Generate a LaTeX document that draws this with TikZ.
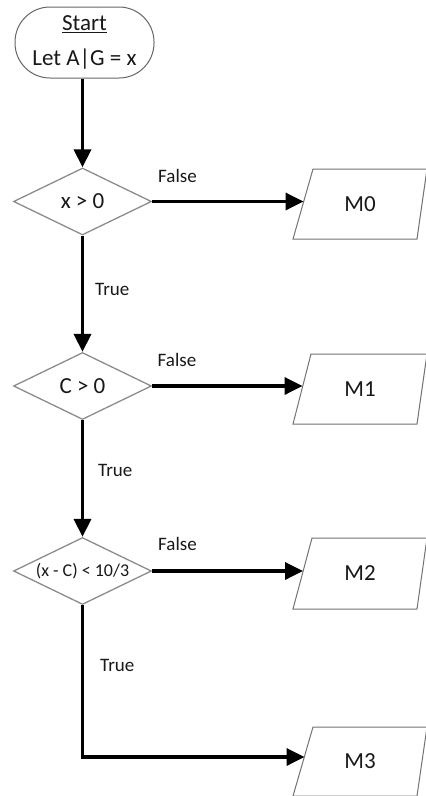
\documentclass[tikz,border=0pt]{standalone}
\usepackage{fontspec}
\setmainfont{Carlito}
\usetikzlibrary{shapes.geometric,arrows.meta}
\begin{document}
\begin{tikzpicture}[x=1pt,y=-1pt,
  term/.style={draw=black!60,line width=1pt,rounded corners=35pt,minimum width=139pt,minimum height=71pt,inner sep=0pt,align=center,text=black!90,font=\fontsize{23}{35}\selectfont},
  dec/.style={diamond,draw=black!45,line width=1.3pt,minimum width=138pt,minimum height=67pt,inner sep=0pt,aspect=2,text=black!90,font=\fontsize{23}{27}\selectfont},
  iot/.style={inner sep=0pt,text=black!90,font=\fontsize{23}{27}\selectfont},
  iob/.style={draw=black!55,line width=1pt},
  arr/.style={line width=3.5pt,-{Triangle[length=18pt,width=17pt]}},
  lbl/.style={inner sep=0pt,text=black!90,font=\fontsize{19}{22}\selectfont}]
\useasboundingbox (0,0) rectangle (426,796);
\fill[white] (0,0) rectangle (426,796);

% start terminal
\node[term] (start) at (84.5,42.5) {\underline{Start}\\Let A|G = x};

% decisions
\node[dec] (d1) at (82.5,201.5) {x > 0};
\node[dec] (d2) at (82.5,386) {C > 0};
\node[dec] (d3) at (82.5,571) {\fontsize{18}{21}\selectfont (x - C) < 10/3};

% outputs
\draw[iob] (313,169) -- (427,169) -- (417,239) -- (293,239) -- cycle;
\node[iot] (m0) at (360,204) {M0};
\coordinate (m0in) at (303.5,201.5);

\draw[iob] (311,354) -- (427,354) -- (417,424) -- (293,424) -- cycle;
\node[iot] (m1) at (360,389) {M1};
\coordinate (m1in) at (302.5,386);

\draw[iob] (312,538) -- (427,538) -- (417,609) -- (293,609) -- cycle;
\node[iot] (m2) at (360,573.5) {M2};
\coordinate (m2in) at (303,571);

\draw[iob] (313,727) -- (427,727) -- (417,796) -- (293,796) -- cycle;
\node[iot] (m3) at (360,761) {M3};
\coordinate (m3in) at (304.5,757);

% connectors
\draw[arr] (start.south -| d1.north) -- (d1.north);
\draw[arr] (d1.south) -- (d2.north);
\draw[arr] (d2.south) -- (d3.north);
\draw[arr] (d1.east) -- (m0in);
\draw[arr] (d2.east) -- (m1in);
\draw[arr] (d3.east) -- (m2in);
\draw[arr] (d3.south) |- (m3in);

% labels
\node[lbl] (f0) at (177.5,176) {False};
\node[lbl] (f1) at (177,360) {False};
\node[lbl] (f2) at (177.5,544) {False};
\node[lbl,anchor=west] (t1) at (95,289) {True};
\node[lbl,anchor=west] (t2) at (98,470) {True};
\node[lbl,anchor=west] (t3) at (100,665) {True};
\end{tikzpicture}
\end{document}
